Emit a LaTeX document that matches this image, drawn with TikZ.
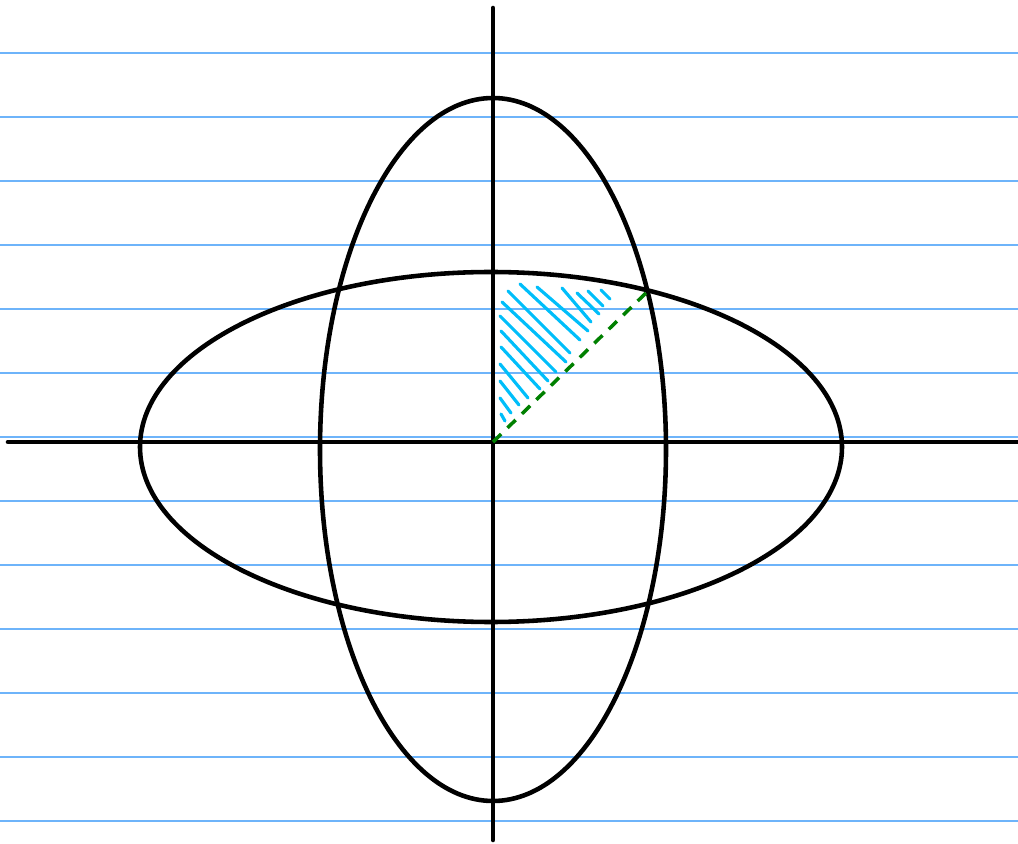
\documentclass[tikz,border=0pt]{standalone}
\usepackage{xcolor}
\usepackage{tikz}
\usetikzlibrary{calc}
\definecolor{ruleblue}{RGB}{110,180,250}
\definecolor{hatchcyan}{RGB}{0,190,250}
\definecolor{diaggreen}{RGB}{0,128,0}

\begin{document}
\begin{tikzpicture}[x=0.02cm, y=-0.02cm,
    rule/.style={ruleblue, line width=0.85pt},
    curve/.style={black, line width=2.6pt},
    axis/.style={black, line width=2.6pt, line cap=round},
    hatch/.style={hatchcyan, line width=1.8pt, line cap=round},
    diag/.style={diaggreen, line width=2pt, dash pattern=on 6.5pt off 5pt}]
    \useasboundingbox (0,0) rectangle (1018,844);
    % ruled paper
    \foreach \k in {0,...,12}
        \draw[rule] (0,{53+64*\k}) -- (1018,{53+64*\k});
    % hatched corner
    \foreach \xa/\ya/\xb/\yb in {601/290/610/299, 588/291/603/306, 577/293/599/314,
        562/288/591/322, 537/287/588/331, 520/284/580/340, 508/291/570/353,
        502/302/566/362, 500/316/556/372, 501/331/548/381, 501/347/540/389,
        500/364/528/398, 500/381/519/405, 500/398/511/413, 501/414/505/421}
        \draw[hatch] (\xa,\ya) -- (\xb,\yb);
    % ellipses
    \draw[curve] (491,447) ellipse [x radius=351, y radius=175];
    \draw[curve] (493,449.5) ellipse [x radius=173, y radius=351.5];
    % axes
    \coordinate (left) at (8,442);
    \coordinate (right) at (1018,442);
    \coordinate (top) at (493,8);
    \coordinate (bottom) at (493,840);
    \draw[axis] (left) -- (right);
    \draw[axis] (top) -- (bottom);
    % diagonal to the crossing point
    \coordinate (origin) at (493,442);
    \coordinate (cross) at (649,290);
    \draw[diag] (origin) -- (cross);
\end{tikzpicture}
\end{document}
